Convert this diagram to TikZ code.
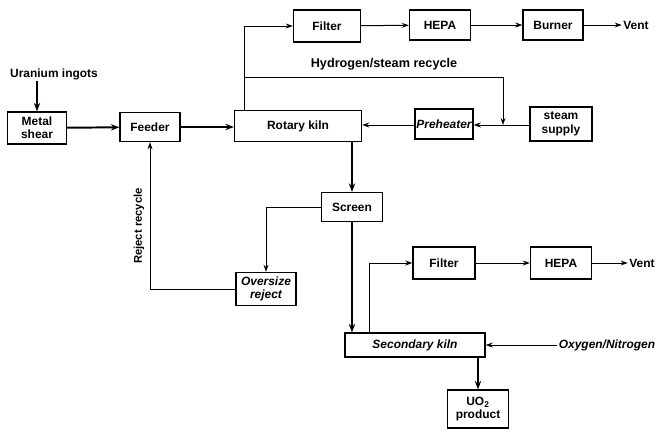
\documentclass[tikz,border=0pt]{standalone}
\usepackage{fontspec}
\setmainfont{Liberation Sans}
\usetikzlibrary{arrows.meta}
\begin{document}
\begin{tikzpicture}[
            x=0.025cm, y=-0.025cm,
            font=\bfseries\fontsize{8.5}{9.5}\selectfont,
            unit/.style  ={draw, line width=0.9pt, align=center, inner sep=1pt},
            slant/.style ={font=\bfseries\itshape\fontsize{8.5}{9.5}\selectfont},
            flow/.style  ={-{Stealth[length=5pt,width=3.5pt]}, line width=0.7pt},
            main/.style  ={-{Stealth[length=6pt,width=4.5pt]}, line width=1.4pt},
            lbl/.style   ={inner sep=1pt}
        ]
            \useasboundingbox (0,0) rectangle (664,435);

            %-----------------  Primera linea: corte, alimentador, horno  --------------------
            \node[lbl] (ingots) at (54,74) {Uranium ingots};
            \node[unit, minimum width=1.475cm, minimum height=0.8cm] (shear) at (37,128) {Metal\\shear};
            \node[unit, minimum width=1.5cm, minimum height=0.725cm] (feeder) at (150,127) {Feeder};
            \node[unit, minimum width=3.175cm, minimum height=0.775cm] (kiln) at (298,126) {Rotary kiln};
            \node[unit, slant, minimum width=1.45cm, minimum height=0.75cm] (pre) at (444,124) {Preheater};
            \node[unit, minimum width=1.55cm, minimum height=0.85cm] (steam) at (561,124) {steam\\supply};

            %-----------------  Gases del horno  --------------------
            \node[unit, minimum width=1.675cm, minimum height=0.8cm] (filt1) at (327,26) {Filter};
            \node[unit, minimum width=1.525cm, minimum height=0.75cm] (hepa1) at (440,25) {HEPA};
            \node[unit, minimum width=1.5cm, minimum height=0.75cm] (burner) at (553,25) {Burner};
            \node[lbl] (vent1) at (636,25) {Vent};
            \node[lbl, font=\bfseries\fontsize{9}{10}\selectfont] (rec) at (384,64) {Hydrogen/steam recycle};

            %-----------------  Cribado  --------------------
            \node[unit, minimum width=1.525cm, minimum height=0.725cm] (screen) at (352,207) {Screen};
            \node[unit, slant, minimum width=1.5cm, minimum height=0.825cm] (over) at (266,289) {Oversize\\reject};
            \node[lbl, rotate=90, font=\bfseries\fontsize{8}{9}\selectfont] (rej) at (139,226) {Reject recycle};

            %-----------------  Horno secundario  --------------------
            \node[unit, slant, minimum width=3.5cm, minimum height=0.6cm] (sec) at (415,345) {Secondary kiln};
            \node[unit, minimum width=1.55cm, minimum height=0.8cm] (filt2) at (444,263) {Filter};
            \node[unit, minimum width=1.525cm, minimum height=0.8cm] (hepa2) at (561,263) {HEPA};
            \node[lbl] (vent2) at (642,263) {Vent};
            \node[lbl, slant] (oxy) at (607,345) {Oxygen/Nitrogen};
            \node[unit, minimum width=1.525cm, minimum height=0.95cm] (uo2) at (478,409) {UO$_\mathbf{2}$\\product};

            % Puntos auxiliares
            \coordinate (k1) at ([xshift=0.275cm]kiln.north west);
            \coordinate (J) at (503,125);
            \coordinate (k2) at ([xshift=0.625cm]sec.north west);

            %-----------------  Flujo principal  --------------------
            \draw[main] (shear |- ingots.south) -- (shear.north);
            \draw[main] (shear) -- (feeder);
            \draw[main] (feeder) -- (feeder -| kiln.west);
            \draw[main] (kiln.south -| screen) -- (screen.north);
            \draw[main] (screen.south) -- (screen.south |- sec.north);
            \draw[main] (sec.south -| uo2) -- (uo2.north);

            %-----------------  Gases y reciclos  --------------------
            \draw[flow] (k1) |- (filt1);
            \draw[flow] (filt1) -- (hepa1);
            \draw[flow] (hepa1) -- (burner);
            \draw[flow] (burner) -- (vent1);
            \draw[flow] (k1 |- 0,77) -| (J);
            \draw[flow] (steam.west |- J) -- (pre.east |- J);
            \draw[flow] (pre.west |- J) -- (kiln.east |- J);

            \draw[flow] (screen.west) -| (over.north);
            \draw[flow] (over.west) -| (feeder.south);

            \draw[flow] (k2) |- (filt2);
            \draw[flow] (filt2) -- (hepa2);
            \draw[flow] (hepa2) -- (vent2);
            \draw[flow] (oxy.west) -- (oxy.west -| sec.east);
        \end{tikzpicture}
\end{document}
